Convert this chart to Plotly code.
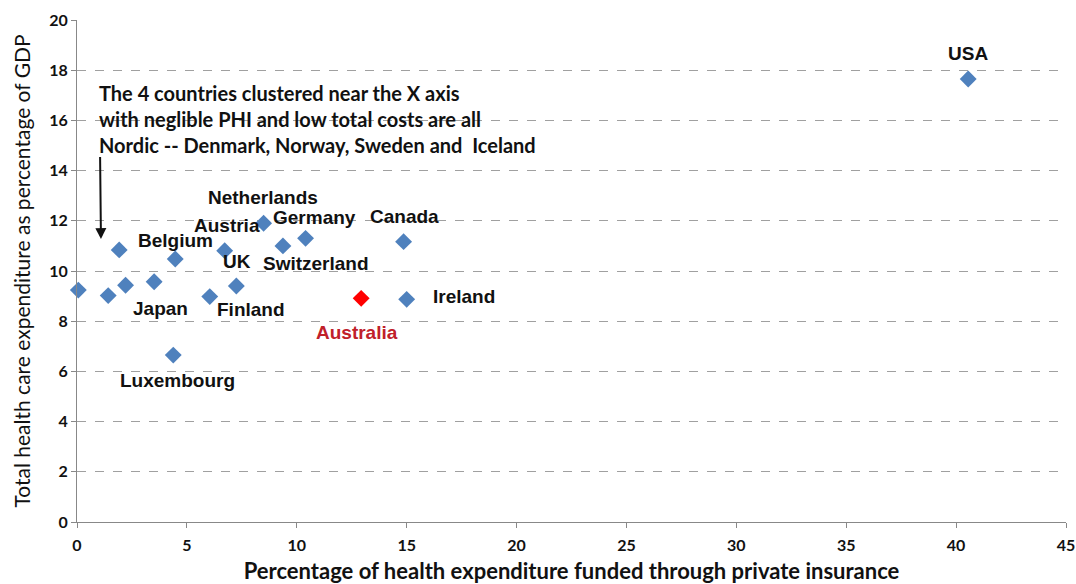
import plotly.graph_objects as go

# ---- data ----
countries = ["Iceland", "Norway", "Denmark", "Sweden", "Japan", "Belgium", "Luxembourg",
             "Finland", "Austria", "UK", "Netherlands", "Switzerland", "Germany",
             "Canada", "Ireland", "Australia", "USA"]
phi_pct = [0.06, 1.42, 1.92, 2.21, 3.51, 4.47, 4.38,
           6.04, 6.72, 7.25, 8.49, 9.37, 10.4,
           14.86, 15.0, 12.93, 40.55]
total_gdp = [9.24, 9.02, 10.84, 9.43, 9.57, 10.48, 6.65,
             8.98, 10.81, 9.40, 11.9, 11.0, 11.3,
             11.17, 8.87, 8.91, 17.65]
labelled = [False, False, False, False, True, True, True,
            True, True, True, True, True, True,
            True, True, True, True]
x_ticks = [0, 5, 10, 15, 20, 25, 30, 35, 40, 45]
y_ticks = [0, 2, 4, 6, 8, 10, 12, 14, 16, 18, 20]

note_text = ("The 4 countries clustered near the X axis<br>"
             "with neglible PHI and low total costs are all<br>"
             "Nordic -- Denmark, Norway, Sweden and  Iceland")

# ---- styling ----
BLUE = "#4f81bd"
RED = "#ff0000"
LABEL_RED = "#c0202a"
label_offsets = {  # pixel offsets (dx, dy) of label centre from marker, dy positive = up
    "Japan": (6, -27), "Belgium": (0, 18), "Luxembourg": (4, -25), "Finland": (41, -13),
    "Austria": (2, 25), "UK": (1, 25), "Netherlands": (-1, 26), "Switzerland": (33, -18),
    "Germany": (9, 21), "Canada": (1, 25), "Ireland": (57, 3), "Australia": (-4, -34),
    "USA": (0, 25),
}

colors = [RED if c == "Australia" else BLUE for c in countries]

fig = go.Figure()
fig.add_trace(go.Scatter(
    x=phi_pct, y=total_gdp, mode="markers",
    marker=dict(symbol="diamond", size=13, color=colors, line=dict(width=0)),
    text=countries, hoverinfo="text+x+y", showlegend=False, cliponaxis=False,
))

annotations = []
for c, x, y, show in zip(countries, phi_pct, total_gdp, labelled):
    if not show:
        continue
    dx, dy = label_offsets[c]
    annotations.append(dict(
        x=x, y=y, xref="x", yref="y", text=f"<b>{c}</b>", showarrow=False,
        xshift=dx, yshift=dy,
        font=dict(family="Liberation Sans, Arial, sans-serif", size=19,
                  color=LABEL_RED if c == "Australia" else "#111111"),
    ))

annotations.append(dict(
    x=0.91, y=16.04, xref="x", yref="y", xanchor="left", yanchor="middle",
    align="left", showarrow=False, text=f"<b>{note_text}</b>",
    font=dict(family="Lato, sans-serif", size=20, color="#111111"),
))
annotations.append(dict(
    x=1.09, y=11.27, xref="x", yref="y", ax=1.05, ay=14.6, axref="x", ayref="y",
    text="", showarrow=True, arrowhead=2, arrowsize=1.1, arrowwidth=2,
    arrowcolor="#111111",
))
fig.update_layout(annotations=annotations)

fig.update_layout(
    width=1076, height=584,
    margin=dict(l=77, r=10, t=20, b=62),
    paper_bgcolor="white", plot_bgcolor="white",
    xaxis=dict(
        range=[0, 45], tickvals=x_ticks, ticktext=[f"<b>{t}</b>" for t in x_ticks],
        automargin=False, ticklabeloverflow="allow", ticklabelstandoff=4,
        showgrid=False, zeroline=False, showline=True, linecolor="#888888", linewidth=1,
        ticks="outside", ticklen=5, tickcolor="#888888",
        tickfont=dict(family="Lato, sans-serif", size=16, color="#111111"),
        title=dict(text="<b>Percentage of health expenditure funded through private insurance</b>",
                   font=dict(family="Lato, sans-serif", size=22, color="#111111"), standoff=17),
    ),
    yaxis=dict(
        range=[0, 20], tickvals=y_ticks, ticktext=[f"<b>{t}</b>" for t in y_ticks],
        automargin=False,
        showgrid=True, gridcolor="#a0a0a0", griddash="dash", gridwidth=1,
        zeroline=False, showline=True, linecolor="#888888", linewidth=1,
        ticks="outside", ticklen=5, tickcolor="#888888",
        tickfont=dict(family="Lato, sans-serif", size=16, color="#111111"),
        title=dict(text="Total health care expenditure as percentage of GDP",
                   font=dict(family="Lato, sans-serif", size=21, color="#111111"), standoff=12),
    ),
)

fig.write_html(
    "out.html",
    config={"displayModeBar": False},
    post_script="document.body.style.margin='0';document.body.style.overflow='hidden';",
)
